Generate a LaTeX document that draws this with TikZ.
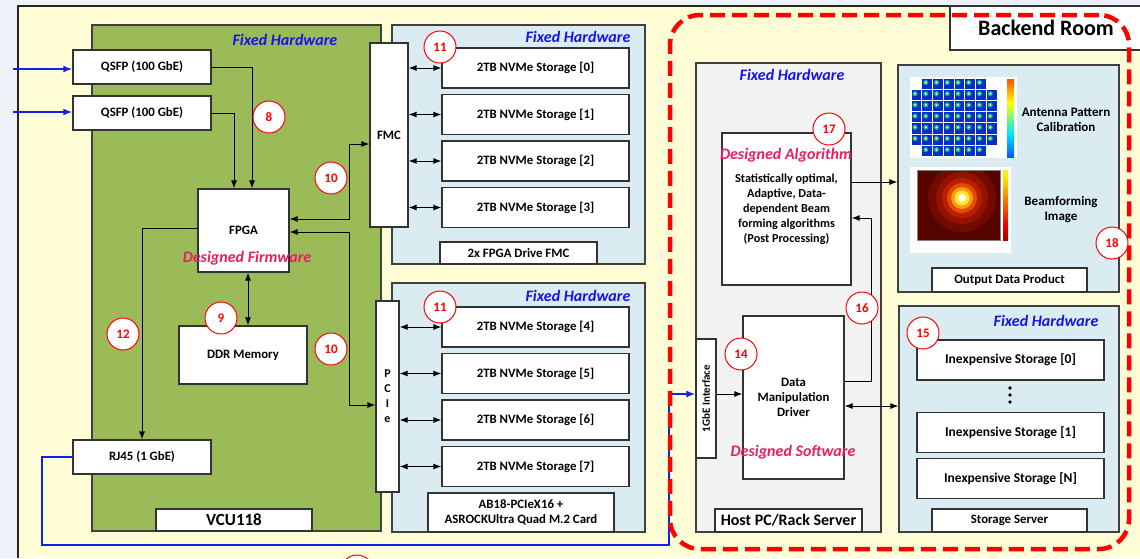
\documentclass[tikz,border=0pt]{standalone}
\usepackage{fontspec}
\setmainfont{Carlito}
\usetikzlibrary{arrows.meta}
\definecolor{bgyellow}{RGB}{255,253,213}
\definecolor{stripgray}{RGB}{238,241,247}
\definecolor{vcugreen}{RGB}{155,187,89}
\definecolor{panelblue}{RGB}{218,236,242}
\definecolor{hostgray}{RGB}{242,242,242}
\definecolor{fixblue}{RGB}{20,20,235}
\definecolor{linkblue}{RGB}{20,30,235}
\definecolor{designpink}{RGB}{232,30,99}
\definecolor{cellblue}{RGB}{10,45,200}
\definecolor{beam0}{rgb}{0.33,0.02,0}
\definecolor{beam1}{rgb}{0.45,0.04,0}
\definecolor{beam2}{rgb}{0.58,0.07,0}
\definecolor{beam3}{rgb}{0.72,0.12,0}
\definecolor{beam4}{rgb}{0.88,0.3,0}
\definecolor{beam5}{rgb}{1,0.6,0.05}
\definecolor{beam6}{rgb}{1,0.9,0.25}
\definecolor{beam7}{rgb}{1,1,0.85}
\pgfdeclareverticalshading{jetbar}{100bp}{rgb(0bp)=(0,0,0.55); rgb(18bp)=(0,0.1,1); rgb(40bp)=(0,0.9,1); rgb(60bp)=(1,1,0); rgb(80bp)=(1,0.1,0); rgb(100bp)=(0.5,0,0)}
\pgfdeclareverticalshading{hotbar}{100bp}{rgb(0bp)=(0,0,0); rgb(35bp)=(0.9,0,0); rgb(70bp)=(1,0.9,0); rgb(100bp)=(1,1,1)}
\tikzset{
  box/.style={draw=black!80, line width=1.2pt, fill=white, inner sep=0pt, align=center, font=\bfseries\fontsize{12.8}{15}\selectfont},
  tag/.style={box, font=\bfseries\fontsize{16}{18}\selectfont},
  panel/.style={draw=black!75, line width=1.2pt, inner sep=0pt},
  txt/.style={align=center, font=\bfseries\fontsize{13}{15}\selectfont},
  fixed/.style={font=\bfseries\itshape\fontsize{16}{18}\selectfont, text=fixblue},
  designed/.style={font=\bfseries\itshape\fontsize{16}{18}\selectfont, text=designpink},
  num/.style={circle, draw=red, line width=1pt, fill=white, text=red, minimum size=32pt, inner sep=0pt, font=\bfseries\fontsize{13}{14}\selectfont},
  conn/.style={line width=1pt, -{Latex[length=8pt,width=6pt]}},
  biconn/.style={line width=1pt, {Latex[length=8pt,width=6pt]}-{Latex[length=8pt,width=6pt]}},
  bluelink/.style={draw=linkblue, line width=1.8pt, -{Latex[length=9pt,width=7pt]}}
}
\begin{document}
\begin{tikzpicture}[x=1pt, y=-1pt]
\useasboundingbox (0,0) rectangle (1140,558);
\fill[stripgray] (0,0) rectangle (1140,558);
\fill[bgyellow] (18,6) rectangle (1140,558);
\draw[line width=1.5pt, black!85] (1140,6) -- (18,6) -- (18,558);

\node[panel, fill=vcugreen, minimum width=289, minimum height=506] (vcu) at (236.5,278) {};
\node[fixed] (vcufix) at (285,40) {Fixed Hardware};
\node[tag, minimum width=156, minimum height=22, font=\bfseries\fontsize{17}{19}\selectfont] (vcutag) at (234,520) {VCU118};
\node[box, minimum width=138, minimum height=34] (qsfpA) at (142,67) {QSFP (100 GbE)};
\node[box, minimum width=138, minimum height=34] (qsfpB) at (142,113) {QSFP (100 GbE)};
\node[box, minimum width=91, minimum height=83] (fpga) at (243.5,230.5) {FPGA};
\node[box, minimum width=128, minimum height=58] (ddr) at (243,355) {DDR Memory};
\node[box, minimum width=138, minimum height=34] (rj45) at (142,457) {RJ45 (1 GbE)};
\node[designed] (fw) at (247,258) {Designed Firmware};

\node[panel, fill=panelblue, minimum width=253, minimum height=239] (fmcpanel) at (518.5,144.5) {};
\node[panel, fill=panelblue, minimum width=253, minimum height=249] (pciepanel) at (518.5,407.5) {};
\node[fixed] (fmcfix) at (578,37) {Fixed Hardware};
\node[fixed] (pciefix) at (578,296) {Fixed Hardware};
\node[box, minimum width=38, minimum height=184] (fmc) at (389,135) {FMC};
\node[box, minimum width=23, minimum height=191, font=\bfseries\fontsize{12}{15}\selectfont] (pcie) at (387.5,396.5) {P\\C\\I\\e};
\foreach \i in {0,...,3}
  \node[box, minimum width=187, minimum height=40] (nvme\i) at (535.5,{68+46.5*\i}) {2TB NVMe Storage [\i]};
\foreach \i in {4,...,7}
  \node[box, minimum width=187, minimum height=40] (nvme\i) at (535.5,{327+46.5*(\i-4)}) {2TB NVMe Storage [\i]};
\node[box, minimum width=157, minimum height=22] (fmctag) at (518.5,253) {2x FPGA Drive FMC};
\node[box, minimum width=186, minimum height=39] (pcietag) at (521,512.5) {AB18-PCIeX16 +\\ASROCKUltra Quad M.2 Card};

\foreach \i in {0,...,3}
  \draw[biconn] (fmc.east |- nvme\i.west) -- (nvme\i.west);
\foreach \i in {4,...,7}
  \draw[biconn] (pcie.east |- nvme\i.west) -- (nvme\i.west);

\coordinate (inA) at (13,69);
\coordinate (inB) at (13,112);
\draw[bluelink] (inA) -- (inA -| qsfpA.west);
\draw[bluelink] (inB) -- (inB -| qsfpB.west);
\draw[conn] (qsfpA.east) -| ([xshift=8.5pt]fpga.north);
\draw[conn] (qsfpB.east) -| ([xshift=-9.5pt]fpga.north);
\draw[biconn] ([yshift=11.5pt]fpga.east) -- ++(60,0) |- ([yshift=-9pt]fmc.west);
\draw[biconn] ([yshift=-1.5pt]fpga.east) -- ++(60,0) |- ([yshift=-8.5pt]pcie.west);
\draw[conn] ([yshift=2.5pt]fpga.west) -| (rj45.north);
\draw[biconn] ([xshift=4.5pt]fpga.south) -- ([xshift=5pt]ddr.north);

\node[panel, fill=hostgray, minimum width=185, minimum height=469] (host) at (788.5,297.5) {};
\node[fixed] (hostfix) at (792,75) {Fixed Hardware};
\node[box, minimum width=129, minimum height=152, font=\bfseries\fontsize{12.2}{15}\selectfont] (algo) at (786.5,209) {Statistically optimal,\\Adaptive, Data-\\dependent Beam\\forming algorithms\\(Post Processing)};
\node[designed] (alg) at (786,155) {Designed Algorithm};
\node[tag, minimum width=147, minimum height=23] (hosttag) at (788.5,520.5) {Host PC/Rack Server};
\node[box, minimum width=20, minimum height=119] (gbe) at (706,398.5) {};
\node[rotate=90, font=\bfseries\fontsize{11}{12}\selectfont] (gbetext) at (gbe.center) {1GbE Interface};
\node[box, minimum width=101, minimum height=163] (drv) at (793.5,397.5) {Data\\Manipulation\\Driver};
\node[designed] (sw) at (793,452) {Designed Software};

\node[panel, fill=panelblue, minimum width=221, minimum height=227] (out) at (1008.5,178.5) {};
\node[box, minimum width=155, minimum height=24] (outtag) at (1009.5,280) {Output Data Product};
\fill[white] (910,77) rectangle (1017,158);
\foreach \r in {0,...,6}
  \foreach \c in {0,...,7}{
    \pgfmathtruncatemacro\corner{and(or(\r==0,\r==6),or(\c==0,\c==7))}
    \ifnum\corner=0
      \fill[cellblue] ({911.5+\c*10.75},{78.5+\r*11.2}) rectangle ++(9.8,10.2);
      \fill[cyan!70!green] ({915+\c*10.75},{82.5+\r*11.2}) circle (2.6);
      \fill[yellow] ({915+\c*10.75},{82.5+\r*11.2}) circle (1.3);
    \fi
  }
\shade[shading=jetbar] (1007,79) rectangle (1014,157);
\node[txt] (antenna) at (1066,120) {Antenna Pattern\\Calibration};
\fill[white] (910,167) rectangle (1011,253);
\begin{scope}
  \clip (917,170) rectangle (1000,240);
  \fill[beam0] (917,170) rectangle (1000,240);
  \foreach \rad/\col in {34/beam1, 26/beam2, 20/beam3, 15/beam4, 11/beam5, 7.5/beam6, 4/beam7}
    \fill[\col] (962,198) circle (\rad);
\end{scope}
\draw[black!50, line width=0.4pt] (917,170) rectangle (1000,240);
\shade[shading=hotbar] (1003,170) rectangle (1008,240);
\node[txt] (beam) at (1061,210) {Beamforming\\Image};

\node[panel, fill=panelblue, minimum width=220, minimum height=226] (srv) at (1009,419) {};
\node[fixed] (srvfix) at (1046,321) {Fixed Hardware};
\node[box, minimum width=187, minimum height=40, font=\bfseries\fontsize{13.5}{15}\selectfont] (cheap0) at (1010.5,360) {Inexpensive Storage [0]};
\node[box, minimum width=187, minimum height=40, font=\bfseries\fontsize{13.5}{15}\selectfont] (cheap1) at (1010.5,432.5) {Inexpensive Storage [1]};
\node[box, minimum width=187, minimum height=40, font=\bfseries\fontsize{13.5}{15}\selectfont] (cheapN) at (1010.5,478.5) {Inexpensive Storage [N]};
\foreach \d in {388,395,402}
  \fill (1010,\d) circle (1.8);
\node[box, minimum width=155, minimum height=23] (srvtag) at (1009.5,520.5) {Storage Server};

\coordinate (gbeline) at (700,394);
\coordinate (srvline) at (870,406);
\coordinate (fbturn) at (871,381);
\draw[bluelink] (rj45.west) -| (42,545) -| (669,394) -- (gbeline -| gbe.west);
\draw[conn] (gbeline -| gbe.east) -- (gbeline -| drv.west);
\draw[biconn] (srvline -| drv.east) -- (srvline -| srv.west);
\draw[conn] (fbturn -| drv.east) -- (fbturn) |- ([yshift=-9pt]algo.east);
\path ([yshift=27pt]algo.east) coordinate (algout);
\draw[conn] (algout) -- (algout -| out.west);

\node[num] (n8) at (269,117) {8};
\node[num] (n10a) at (331,178) {10};
\node[num] (n9) at (221,318) {9};
\node[num] (n12) at (123,334) {12};
\node[num] (n10b) at (331,349) {10};
\node[num] (n11a) at (440,47) {11};
\node[num] (n11b) at (440,307) {11};
\node[num] (n17) at (829,129) {17};
\node[num] (n16) at (862,308) {16};
\node[num] (n14) at (741,354) {14};
\node[num] (n15) at (923,333) {15};
\node[num] (n18) at (1112,243) {18};
\node[num] (n13) at (357,571) {};

\node[tag, minimum width=192, minimum height=44, font=\bfseries\fontsize{22}{24}\selectfont] (backend) at (1046,28) {Backend Room};
\node[draw=red, line width=4.5pt, dash pattern=on 15pt off 7pt, rounded corners=30pt, minimum width=459, minimum height=534, inner sep=0pt] (backroom) at (899.5,282) {};
\end{tikzpicture}
\end{document}
